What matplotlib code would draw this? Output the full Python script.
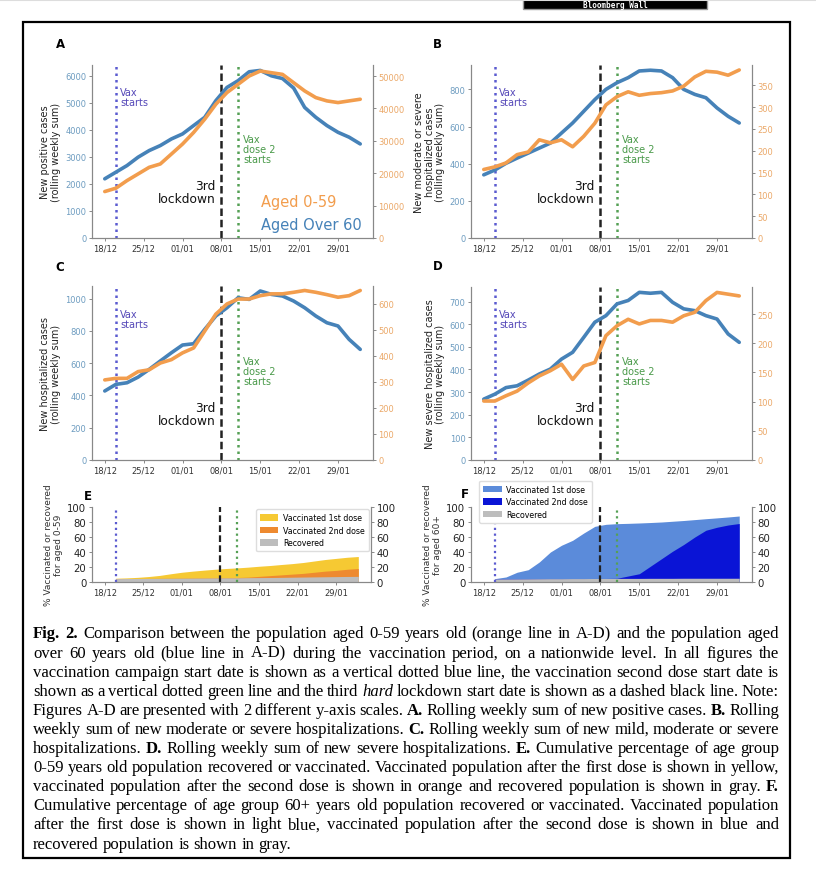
import matplotlib
matplotlib.use("Agg")
import matplotlib.pyplot as plt
import matplotlib.dates as mdates
from matplotlib.patches import Rectangle
from matplotlib.lines import Line2D
import pandas as pd

# ---- data (every 2nd day, 18/12/2020 -> 02/02/2021) ----
dates = pd.date_range("2020-12-18", periods=24, freq="2D")

pos_over60 = [2190, 2435, 2680, 2990, 3235, 3420, 3665, 3850, 4160, 4465, 5080, 5570,
              5820, 6150, 6200, 6000, 5900, 5550, 4830, 4465, 4160, 3910, 3730, 3480]
pos_0_59 = [14340, 15370, 17720, 19770, 21820, 22850, 25920, 29000, 32580, 36680, 41290, 44880,
            47440, 50000, 51540, 51020, 50510, 47950, 45390, 43340, 42320, 41800, 42320, 42830]

modsev_over60 = [340, 366, 402, 430, 457, 484, 511, 565, 619, 682, 745, 800,
                 836, 863, 899, 903, 899, 863, 800, 773, 755, 700, 655, 619]
modsev_0_59 = [157, 163, 172, 191, 197, 225, 218, 225, 209, 233, 263, 305,
               324, 335, 327, 331, 333, 337, 348, 369, 382, 380, 373, 385]

hosp_over60 = [428, 469, 479, 514, 562, 614, 665, 713, 721, 810, 893, 944,
               1006, 996, 1048, 1027, 1017, 986, 944, 893, 851, 831, 748, 686]
hosp_0_59 = [308, 314, 314, 340, 347, 373, 386, 412, 431, 496, 561, 600,
             619, 619, 632, 639, 639, 645, 652, 645, 636, 626, 632, 652]

severe_over60 = [269, 291, 320, 328, 353, 380, 402, 446, 476, 542, 609, 638,
                 690, 705, 741, 737, 741, 697, 668, 660, 638, 623, 557, 520]
severe_0_59 = [101, 101, 110, 118, 132, 144, 153, 164, 138, 161, 167, 213,
               230, 241, 233, 239, 239, 236, 247, 253, 273, 287, 284, 281]

# cumulative % (recovered + vaccinated), from 20/12
vax_dates = pd.date_range("2020-12-20", periods=23, freq="2D")
e_recovered = [4.5, 4.6, 4.7, 4.8, 4.9, 5.0, 5.1, 5.2, 5.3, 5.4, 5.5, 5.6,
               5.8, 5.9, 6.0, 6.2, 6.4, 6.6, 6.8, 7.0, 7.2, 7.4, 7.5]
e_dose1_total = [5, 5.5, 6.2, 7.3, 8.8, 11, 13, 14.5, 15.8, 17, 18, 18.8,
                 19.8, 21, 22, 23.3, 24.5, 26, 28, 30, 31.5, 33, 34]
e_dose2_total = [4.5, 4.6, 4.7, 4.8, 4.9, 5.0, 5.1, 5.2, 5.3, 5.4, 5.5, 6.0,
                 6.5, 7.5, 8.5, 9.5, 10.5, 11.5, 13, 14.5, 15.5, 17, 18]
f_recovered = [4.0, 4.1, 4.2, 4.3, 4.4, 4.5, 4.5, 4.6, 4.6, 4.7, 4.7, 4.8,
               4.8, 4.8, 4.9, 4.9, 4.9, 5.0, 5.0, 5.0, 5.0, 5.0, 5.0]
f_dose1_total = [4.5, 6.7, 13, 16.4, 26.7, 40, 49, 55.6, 65.3, 74.2, 76.9, 77.8,
                 78.2, 78.7, 79.3, 80, 81, 82, 83.2, 84.4, 85.5, 86.7, 88]
f_dose2_total = [4.0, 4.1, 4.2, 4.3, 4.4, 4.5, 4.5, 4.6, 4.6, 4.7, 4.7, 5,
                 8, 11, 21, 31, 41, 50, 60, 69, 73, 76, 78]

vax_start = pd.Timestamp("2020-12-20")
lockdown = pd.Timestamp("2021-01-08")
dose2_start = pd.Timestamp("2021-01-11")
tick_dates = pd.date_range("2020-12-18", periods=7, freq="7D")

BLUE = "#4682b8"
ORANGE = "#f29d4d"
BLUE_TICK = "#6d9cc0"
ORANGE_TICK = "#eba868"

W, H = 816, 878
fig = plt.figure(figsize=(W / 100, H / 100), dpi=100)
pad = pd.Timedelta(days=2.3)
xlim = (dates[0] - pad, dates[-1] + pad)


def px_axes(left, top, right, bottom):
    return fig.add_axes([left / W, 1 - bottom / H, (right - left) / W, (bottom - top) / H])


def style_dates(ax):
    ax.set_xlim(xlim)
    ax.set_xticks(tick_dates)
    ax.xaxis.set_major_formatter(mdates.DateFormatter("%d/%m"))


def event_lines(ax, lw=1.8, z=1):
    ax.axvline(vax_start, color="#5b5bd0", ls=(0, (1, 1.6)), lw=lw, zorder=z)
    ax.axvline(lockdown, color="#222222", ls=(0, (3, 1.5)), lw=lw, zorder=z)
    ax.axvline(dose2_start, color="#55a055", ls=(0, (1, 1.6)), lw=lw, zorder=z)


def line_panel(box, older, younger, ylabel, letter, letter_xy):
    ax = px_axes(*box)
    ax2 = ax.twinx()
    event_lines(ax)
    ax.plot(dates, older, color=BLUE, lw=2.6, solid_capstyle="round", zorder=3)
    ax2.plot(dates, younger, color=ORANGE, lw=2.6, solid_capstyle="round", zorder=3)
    ax.set_ylim(bottom=0)
    ax2.set_ylim(bottom=0)
    style_dates(ax)
    for a in (ax, ax2):
        a.spines["top"].set_visible(False)
        for s in ("left", "right", "bottom"):
            a.spines[s].set_color("#888888")
            a.spines[s].set_linewidth(0.8)
        a.tick_params(length=2.5, width=0.6, color="#777777", pad=1.5, labelsize=6)
    ax.tick_params(axis="y", labelcolor=BLUE_TICK)
    ax.tick_params(axis="x", labelcolor="#333333")
    ax2.tick_params(axis="y", labelcolor=ORANGE_TICK)
    ax.set_ylabel(ylabel, fontsize=7, color="#222222", linespacing=1.1, labelpad=3)

    tr = ax.get_xaxis_transform()
    ax.text(vax_start + pd.Timedelta(days=0.8), 0.87, "Vax\nstarts", transform=tr,
            color="#5548b8", fontsize=7, va="top", ha="left", linespacing=1.0)
    ax.text(dose2_start + pd.Timedelta(days=0.9), 0.6, "Vax\ndose 2\nstarts", transform=tr,
            color="#4a9a4a", fontsize=7, va="top", ha="left", linespacing=1.0)
    ax.text(lockdown - pd.Timedelta(days=1.0), 0.34, "3rd\nlockdown", transform=tr,
            color="#111111", fontsize=8.8, va="top", ha="right", linespacing=1.0)
    fig.text(letter_xy[0] / W, 1 - letter_xy[1] / H, letter, fontsize=8.5,
             fontweight="bold", ha="center", va="center")
    return ax


axA = line_panel((92, 66, 373, 239), pos_over60, pos_0_59,
                 "New positive cases\n(rolling weekly sum)", "A", (61, 45))
axA.text(0.6, 0.21, "Aged 0-59", transform=axA.transAxes, color=ORANGE,
         fontsize=10.5, va="center", zorder=5)
axA.text(0.6, 0.08, "Aged Over 60", transform=axA.transAxes, color=BLUE,
         fontsize=10.5, va="center", zorder=5)
line_panel((471, 66, 752, 239), modsev_over60, modsev_0_59,
           "New moderate or severe\nhospitalized cases\n(rolling weekly sum)", "B", (437, 45))
line_panel((92, 287, 373, 461), hosp_over60, hosp_0_59,
           "New hospitalized cases\n(rolling weekly sum)", "C", (60, 268))
line_panel((471, 288, 752, 461), severe_over60, severe_0_59,
           "New severe hospitalized cases\n(rolling weekly sum)", "D", (438, 267))


def area_panel(box, rec, d1, d2, c1, c2, ylabel, letter, letter_xy, legend_kw):
    ax = px_axes(*box)
    event_lines(ax, lw=1.6, z=3)
    ax.fill_between(vax_dates, 0, d1, color=c1, lw=0, label="Vaccinated 1st dose", zorder=2)
    ax.fill_between(vax_dates, 0, d2, color=c2, lw=0, label="Vaccinated 2nd dose", zorder=2)
    ax.fill_between(vax_dates, 0, rec, color="#bdbdbd", lw=0, label="Recovered", zorder=2)
    ax.set_ylim(0, 100)
    style_dates(ax)
    ax2 = ax.twinx()
    ax2.set_ylim(0, 100)
    for a in (ax, ax2):
        a.set_yticks(range(0, 101, 20))
        a.spines["top"].set_visible(False)
        for s in ("left", "right", "bottom"):
            a.spines[s].set_color("#888888")
            a.spines[s].set_linewidth(0.8)
        a.tick_params(length=2.5, width=0.6, color="#777777", pad=1.5)
        a.tick_params(axis="y", labelsize=7.3, labelcolor="#222222")
    ax.tick_params(axis="x", labelsize=6, labelcolor="#333333")
    ax.set_ylabel(ylabel, fontsize=6.5, color="#333333", linespacing=1.1, labelpad=3)
    leg = ax.legend(fontsize=5.7, handlelength=2.3, handleheight=0.9, borderpad=0.5,
                    labelspacing=0.45, handletextpad=0.6, framealpha=1,
                    edgecolor="#dddddd", **legend_kw)
    leg.set_zorder(10)
    fig.text(letter_xy[0] / W, 1 - letter_xy[1] / H, letter, fontsize=8.5,
             fontweight="bold", ha="center", va="center")


area_panel((92, 508, 371, 583), e_recovered, e_dose1_total, e_dose2_total,
           "#f6c933", "#ee8a30", "% Vaccinated or recovered\nfor aged 0-59", "E", (88, 497),
           dict(loc="upper right", borderaxespad=0.3))
area_panel((471, 508, 752, 583), f_recovered, f_dose1_total, f_dose2_total,
           "#5b8bda", "#0a14d6", "% Vaccinated or recovered\nfor aged 60+", "F", (465, 495),
           dict(loc="upper left", bbox_to_anchor=(0.03, 1.35), borderaxespad=0))

# ---- caption, justified word by word ----
caption = [
    "*Fig.* *2.* Comparison between the population aged 0-59 years old (orange line in A-D) and the population aged",
    "over 60 years old (blue line in A-D) during the vaccination period, on a nationwide level. In all figures the",
    "vaccination campaign start date is shown as a vertical dotted blue line, the vaccination second dose start date is",
    "shown as a vertical dotted green line and the third _hard_ lockdown start date is shown as a dashed black line. Note:",
    "Figures A-D are presented with 2 different y-axis scales. *A.* Rolling weekly sum of new positive cases. *B.* Rolling",
    "weekly sum of new moderate or severe hospitalizations. *C.* Rolling weekly sum of new mild, moderate or severe",
    "hospitalizations. *D.* Rolling weekly sum of new severe hospitalizations. *E.* Cumulative percentage of age group",
    "0-59 years old population recovered or vaccinated. Vaccinated population after the first dose is shown in yellow,",
    "vaccinated population after the second dose is shown in orange and recovered population is shown in gray. *F.*",
    "Cumulative percentage of age group 60+ years old population recovered or vaccinated. Vaccinated population",
    "after the first dose is shown in light blue, vaccinated population after the second dose is shown in blue and",
    "recovered population is shown in gray.",
]
CAP_LEFT, CAP_RIGHT = 33, 779
renderer = fig.canvas.get_renderer()
rows = []
for i, line in enumerate(caption):
    y = 1 - (638.5 + 19.1 * i) / H   # baseline of the line
    words = []
    for w in line.split():
        weight, style = "normal", "normal"
        if len(w) > 2 and w[0] == "*" and w[-1] == "*":
            w, weight = w[1:-1], "bold"
        elif len(w) > 2 and w[0] == "_" and w[-1] == "_":
            w, style = w[1:-1], "italic"
        words.append(fig.text(0, y, w, family="Liberation Serif", fontsize=12.5,
                              fontweight=weight, fontstyle=style, va="baseline", ha="left"))
    rows.append(words)

# largest size that still leaves a real gap between words on every line
cap_fs = 12.5
while True:
    ok = True
    for words in rows[:-1]:
        for t in words:
            t.set_fontsize(cap_fs)
        widths = [t.get_window_extent(renderer).width for t in words]
        if (CAP_RIGHT - CAP_LEFT - sum(widths)) / (len(words) - 1) < 2.6:
            ok = False
            break
    if ok:
        break
    cap_fs -= 0.25

for i, words in enumerate(rows):
    for t in words:
        t.set_fontsize(cap_fs)
    widths = [t.get_window_extent(renderer).width for t in words]
    if i < len(rows) - 1:
        gap = (CAP_RIGHT - CAP_LEFT - sum(widths)) / (len(words) - 1)
    else:
        gap = cap_fs * 0.25 * 100 / 72
    x = CAP_LEFT
    for t, wd in zip(words, widths):
        t.set_x(x / W)
        x += wd + gap

# ---- page furniture: frame and banner at the top ----
fig.add_artist(Rectangle((23 / W, 1 - 859 / H), (790 - 23) / W, (859 - 23) / H,
                         transform=fig.transFigure, fill=False, lw=1.6, ec="black"))
fig.add_artist(Line2D([0, 1], [1 - 1 / H, 1 - 1 / H], transform=fig.transFigure,
                      color="#dddddd", lw=1.5))
fig.add_artist(Rectangle((523 / W, 1 - 10 / H), (707 - 523) / W, 11 / H,
                         transform=fig.transFigure, fc="black", ec="#999999", lw=1))
fig.text(615 / W, 1 - 5.2 / H, "Bloomberg Wall", color="white", fontsize=5.5,
         fontweight="bold", family="DejaVu Sans Mono", ha="center", va="center")

fig.savefig("out.png", dpi=100)
